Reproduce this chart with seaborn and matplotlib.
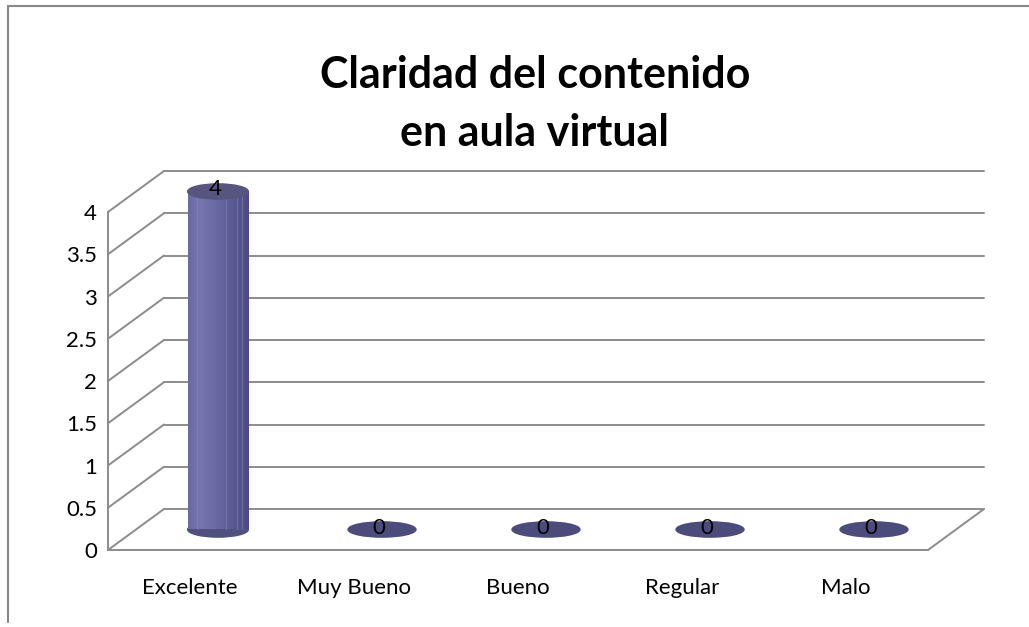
import numpy as np
import matplotlib
matplotlib.use("Agg")
import matplotlib.pyplot as plt
from matplotlib.colors import LinearSegmentedColormap
from matplotlib.patches import Ellipse
from matplotlib.lines import Line2D
import seaborn as sns

# data
categories = ["Excelente", "Muy Bueno", "Bueno", "Regular", "Malo"]
values = [4, 0, 0, 0, 0]
yticks = [0, 0.5, 1, 1.5, 2, 2.5, 3, 3.5, 4]
title = "Claridad del contenido\nen aula virtual"

sns.set_style("white")
plt.rcParams["font.family"] = ["Lato", "DejaVu Sans"]
plt.rcParams["text.color"] = "black"
plt.rcParams["xtick.labelcolor"] = "black"
plt.rcParams["ytick.labelcolor"] = "black"

W, H, DPI = 1029, 627, 100
fig = plt.figure(figsize=(W / DPI, H / DPI), dpi=DPI)

# front plane of the pseudo-3d box (pixel geometry)
x0, x1 = 108, 928
y_bot, y_top = 550, 212
depth_x, depth_y = 56, 41
grid_col = "#8c8c8c"

ax = fig.add_axes([x0 / W, (H - y_bot) / H, (x1 - x0) / W, (y_bot - y_top) / H])
ax.set_xlim(-0.5, len(categories) - 0.5)
ax.set_ylim(0, 4)
ax.patch.set_alpha(0)

# pixel -> data conversion for the depth offset
ddx = depth_x * len(categories) / (x1 - x0)
ddy = depth_y * 4 / (y_bot - y_top)

xl, xr = -0.5, len(categories) - 0.5
for v in yticks:
    # back wall line and left wall diagonal
    ax.plot([xl + ddx, xr + ddx], [v + ddy, v + ddy], color=grid_col, lw=1.4,
            clip_on=False, zorder=0)
    ax.plot([xl, xl + ddx], [v, v + ddy], color=grid_col, lw=1.4,
            clip_on=False, zorder=0)
# floor right edge
ax.plot([xr, xr + ddx], [0, ddy], color=grid_col, lw=1.4, clip_on=False, zorder=0)

for s in ["top", "right"]:
    ax.spines[s].set_visible(False)
for s in ["left", "bottom"]:
    ax.spines[s].set_color(grid_col)
    ax.spines[s].set_linewidth(1.4)

ax.set_yticks(yticks)
ax.set_yticklabels([f"{v:g}" for v in yticks])
ax.set_xticks(range(len(categories)))
ax.set_xticklabels(categories)
ax.set_xticks(np.arange(-0.5, len(categories)), minor=True)
ax.tick_params(axis="x", which="major", length=0, pad=20, labelsize=16)
ax.tick_params(axis="x", which="minor", length=5, width=1.4, color=grid_col)
ax.tick_params(axis="y", length=5, width=1.4, color=grid_col, pad=3, labelsize=16)

# bars sit at half depth
bax = fig.add_axes([(x0 + depth_x / 2) / W, (H - y_bot + depth_y / 2) / H,
                    (x1 - x0) / W, (y_bot - y_top) / H])
bax.patch.set_alpha(0)
sns.barplot(x=categories, y=values, ax=bax, color="#6666a0", width=0.37,
            saturation=1)
bax.set_xlim(-0.5, len(categories) - 0.5)
bax.set_ylim(0, 4)
bax.axis("off")

cyl = LinearSegmentedColormap.from_list(
    "cyl", ["#6a6aa6", "#7676b0", "#6c6ca6", "#62629c", "#57578e", "#4c4c80"])
grad = np.linspace(0, 1, 64).reshape(1, -1)
eh = 0.18
for p, v in zip(bax.patches, values):
    bx, bw, bh = p.get_x(), p.get_width(), p.get_height()
    cx = bx + bw / 2
    if bh > 0:
        p.set_facecolor("none")
        p.set_edgecolor("none")
        bax.add_patch(Ellipse((cx, 0), bw, eh, color="#50507f", zorder=2, clip_on=False))
        bax.imshow(grad, cmap=cyl, aspect="auto", extent=(bx, bx + bw, 0, bh),
                   zorder=3, clip_on=False)
        bax.add_patch(Ellipse((cx, bh), bw, eh, color="#55557f", zorder=4, clip_on=False))
        for f in (0.15, 0.63, 0.82, 0.9):
            bax.plot([bx + f * bw] * 2, [0, bh], color="#8a8abc", lw=0.6, alpha=0.6,
                     zorder=3.5)
        ty = bh + 0.03
    else:
        bax.add_patch(Ellipse((cx, 0), bw * 1.12, eh, color="#4b4b7c", zorder=2,
                              clip_on=False))
        ty = bh + 0.02
    bax.text(cx - 0.02, ty, f"{v:g}", ha="center", va="center", fontsize=16,
             color="black", zorder=5)
    bax.set_xlim(-0.5, len(categories) - 0.5)
    bax.set_ylim(0, 4)

fig.text(535 / W, 1 - 104 / H, title, ha="center", va="center", fontsize=31,
         fontweight="bold", linespacing=1.55, color="black")

# chart frame (partially cropped in the original)
fig.add_artist(Line2D([8 / W, 1], [1 - 6 / H, 1 - 6 / H], color="#888888", lw=1.5))
fig.add_artist(Line2D([8 / W, 8 / W], [1 - 6 / H, 1 - 622 / H], color="#888888", lw=1.5))

fig.savefig("out.png", dpi=DPI)
